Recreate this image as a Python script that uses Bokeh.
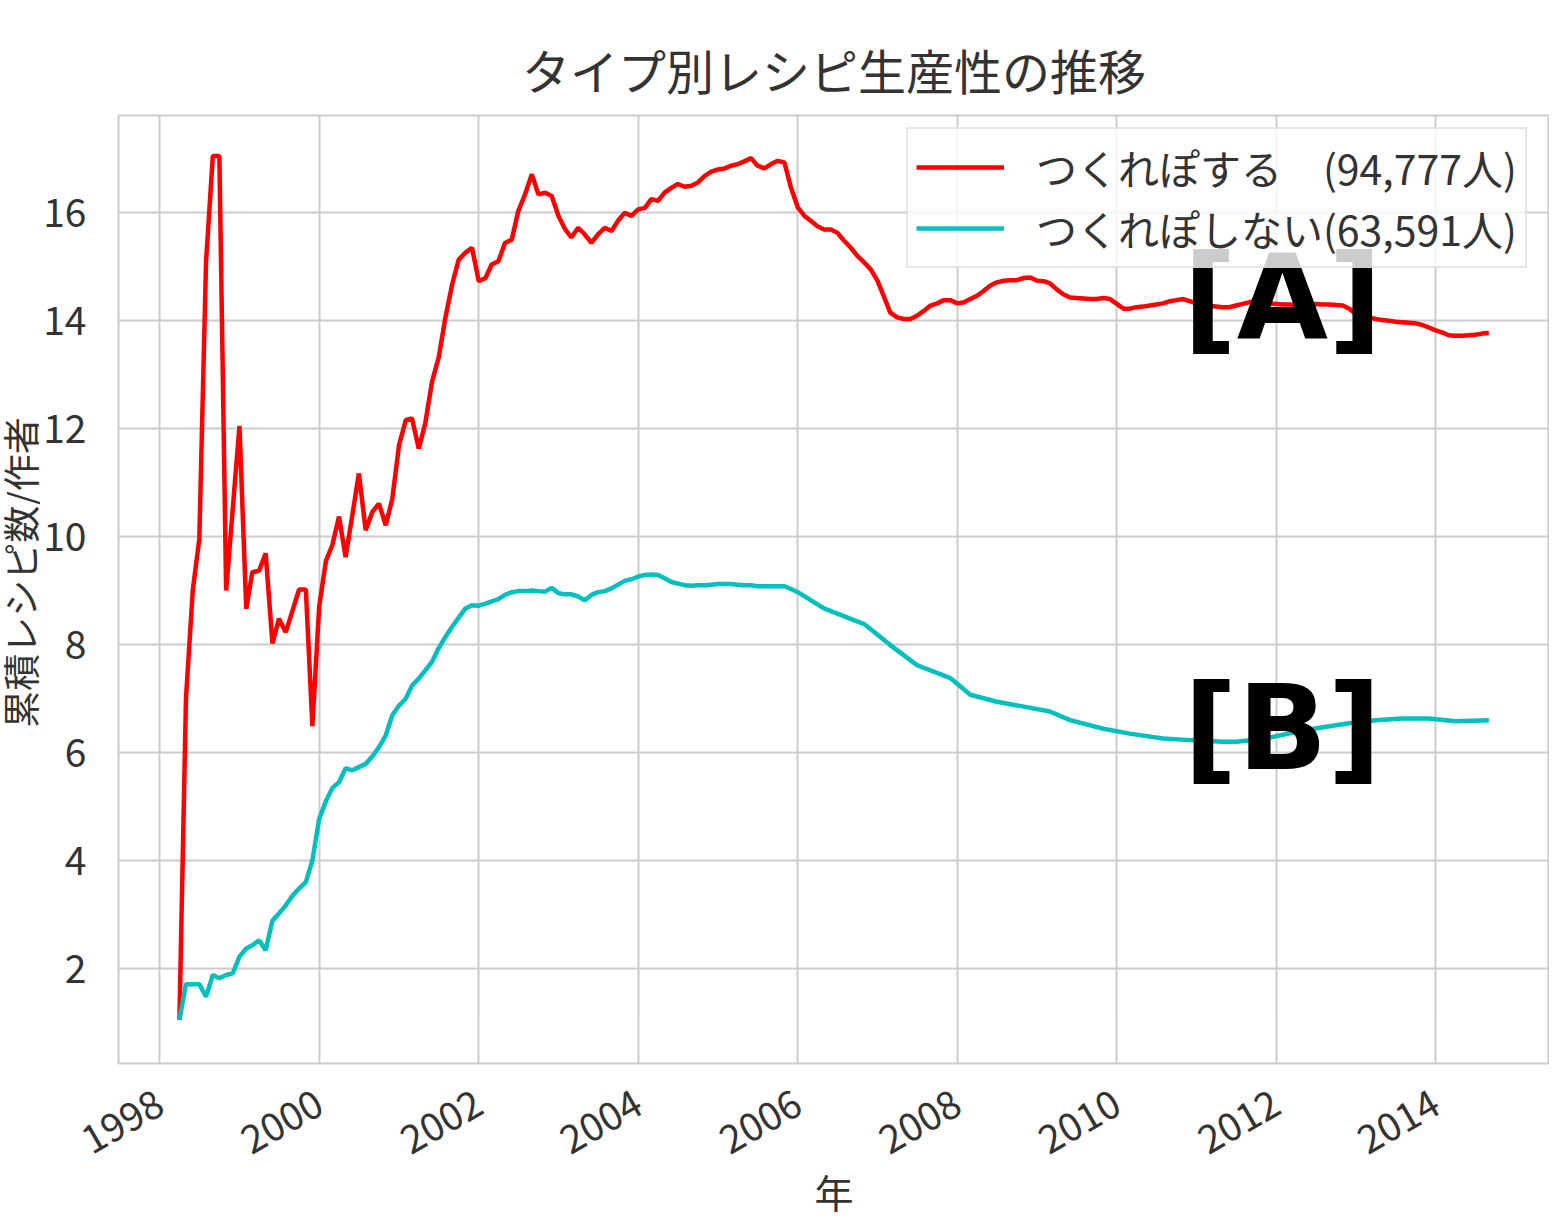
import math
import pandas as pd
from bokeh.plotting import figure
from bokeh.layouts import row
from bokeh.models import (FixedTicker, DatetimeTickFormatter, Legend, LegendItem,
                          Label, Range1d)
from bokeh.core.properties import value
from bokeh.embed import file_html
from bokeh.resources import INLINE

# ---------------- data ----------------
title_text = "タイプ別レシピ生産性の推移"
x_label = "年"
y_label = "累積レシピ数/作者"
series_names = ["つくれぽする\u3000(94,777人)", "つくれぽしない(63,591人)"]
year_ticks = [1998, 2000, 2002, 2004, 2006, 2008, 2010, 2012, 2014]
y_ticks = [2, 4, 6, 8, 10, 12, 14, 16]

# monthly, starting 1998-04
red_start = "1998-04-01"
red_values = [
    1.05, 7.0, 9.0, 9.95, 15.1, 17.05, 17.05, 9.0, 10.5, 12.05,
    8.66, 9.34, 9.37, 9.69, 8.02, 8.48, 8.23, 8.63, 9.02, 9.02,
    6.49, 8.7, 9.55, 9.84, 10.37, 9.62, 10.4, 11.17, 10.12, 10.46,
    10.61, 10.21, 10.7, 11.7, 12.16, 12.19, 11.63, 12.1, 12.87, 13.31,
    14.05, 14.67, 15.13, 15.26, 15.35, 14.73, 14.79, 15.04, 15.1, 15.44,
    15.5, 16.03, 16.34, 16.71, 16.34, 16.37, 16.31, 15.94, 15.69, 15.54,
    15.72, 15.6, 15.44, 15.6, 15.72, 15.66, 15.85, 16.0, 15.94, 16.06,
    16.09, 16.25, 16.22, 16.37, 16.46, 16.53, 16.48, 16.5, 16.56, 16.68,
    16.76, 16.8, 16.82, 16.87, 16.9, 16.95, 17.01, 16.87, 16.82, 16.9,
    16.96, 16.93, 16.46, 16.1, 15.94, 15.85, 15.75, 15.69, 15.69, 15.63,
    15.48, 15.35, 15.2, 15.08, 14.95, 14.74, 14.43, 14.15, 14.06, 14.03,
    14.03, 14.09, 14.18, 14.28, 14.32, 14.38, 14.38, 14.32, 14.34, 14.4,
    14.46, 14.55, 14.65, 14.71, 14.74, 14.75, 14.75, 14.79, 14.8, 14.74,
    14.73, 14.69, 14.58, 14.49, 14.43, 14.42, 14.41, 14.4, 14.4, 14.42,
    14.4, 14.31, 14.22, 14.22, 14.25, 14.26, 14.28, 14.3, 14.32, 14.36,
    14.38, 14.4, 14.36, 14.32, 14.3, 14.27, 14.26, 14.25, 14.25, 14.28,
    14.31, 14.34, 14.37, 14.35, 14.32, 14.31, 14.3, 14.3, 14.29, 14.28,
    14.3, 14.31, 14.3, 14.3, 14.29, 14.28, 14.22, 14.12, 14.09, 14.06,
    14.03, 14.01, 14.0, 13.98, 13.97, 13.96, 13.95, 13.92, 13.87, 13.82,
    13.78, 13.73, 13.72, 13.72, 13.73, 13.74, 13.76, 13.77,
]

# monthly 1998-04 .. 2005-12, then sparser readings
cyan_start = "1998-04-01"
cyan_values_monthly = [
    1.05, 1.71, 1.71, 1.71, 1.48, 1.88, 1.82, 1.88, 1.91, 2.22,
    2.37, 2.43, 2.52, 2.34, 2.89, 3.02, 3.17, 3.35, 3.48, 3.6,
    4.0, 4.77, 5.1, 5.34, 5.45, 5.71, 5.67, 5.73, 5.79, 5.93,
    6.1, 6.32, 6.69, 6.87, 7.0, 7.24, 7.37, 7.52, 7.68, 7.93,
    8.14, 8.33, 8.5, 8.67, 8.73, 8.72, 8.76, 8.8, 8.84, 8.92,
    8.97, 8.99, 8.99, 9.0, 8.99, 8.98, 9.05, 8.95, 8.93, 8.93,
    8.89, 8.82, 8.92, 8.97, 8.99, 9.04, 9.11, 9.18, 9.21, 9.26,
    9.29, 9.3, 9.29, 9.23, 9.16, 9.13, 9.1, 9.09, 9.1, 9.1,
    9.11, 9.12, 9.12, 9.12, 9.11, 9.1, 9.1, 9.08, 9.08, 9.08,
    9.08, 9.08, 9.03,
]
cyan_tail_dates = [
    "2006-01-01", "2006-05-01", "2006-11-01", "2007-03-01", "2007-07-01",
    "2007-12-01", "2008-03-01", "2008-07-01", "2008-11-01", "2009-03-01",
    "2009-06-01", "2009-11-01", "2010-03-01", "2010-08-01", "2010-12-01",
    "2011-05-01", "2011-07-01", "2011-11-01", "2012-04-01", "2012-08-01",
    "2013-01-01", "2013-04-01", "2013-08-01", "2013-12-01", "2014-04-01",
    "2014-09-01",
]
cyan_tail_values = [
    8.97, 8.67, 8.38, 7.99, 7.62, 7.38, 7.07, 6.94, 6.85, 6.76,
    6.6, 6.44, 6.35, 6.26, 6.23, 6.2, 6.2, 6.25, 6.38, 6.47,
    6.56, 6.6, 6.63, 6.63, 6.58, 6.6,
]

# ---------------- build ----------------
red_dates = pd.date_range(red_start, periods=len(red_values), freq="MS")
cyan_dates = list(pd.date_range(cyan_start, periods=len(cyan_values_monthly), freq="MS")) + \
    list(pd.to_datetime(cyan_tail_dates))
cyan_values = cyan_values_monthly + cyan_tail_values

FONT = "Noto Sans CJK JP"
TXT = "#333333"
FIG_H = 1222
LAB_W = 40

# narrow strip holding the (vertical) y-axis title
pl = figure(width=LAB_W, height=FIG_H, output_backend="svg", toolbar_location=None,
            x_range=Range1d(0, LAB_W), y_range=Range1d(0, FIG_H),
            x_axis_location=None, y_axis_location=None,
            min_border=0, outline_line_color=None)
pl.grid.visible = False
pl.background_fill_color = "white"
pl.border_fill_color = "white"
pl.text(x=[19], y=[FIG_H - 589], text=[y_label], angle=math.pi / 2,
        text_align="center", text_baseline="middle",
        text_font=value(FONT), text_font_size="37px", text_color=TXT)

p = figure(width=1549 - LAB_W, height=FIG_H, x_axis_type="datetime",
           output_backend="svg", toolbar_location=None,
           x_range=Range1d(pd.Timestamp("1997-06-26"), pd.Timestamp("2015-06-06")),
           y_range=Range1d(0.24, 17.8),
           min_border_left=117 - LAB_W, min_border_right=0,
           min_border_top=115, min_border_bottom=159)

p.background_fill_color = "white"
p.border_fill_color = "white"
p.outline_line_color = "#cccccc"
p.outline_line_width = 2

p.title.text = title_text
p.title.align = "center"
p.title.text_font = FONT
p.title.text_font_size = "48px"
p.title.text_font_style = "normal"
p.title.text_color = TXT
p.title.standoff = 23

r1 = p.line(red_dates, red_values, line_color="#ff0000", line_width=4.5)
r2 = p.line(cyan_dates, cyan_values, line_color="#00bfbf", line_width=4.5)

p.xaxis.ticker = FixedTicker(ticks=[pd.Timestamp(f"{y}-01-01").timestamp() * 1000 for y in year_ticks])
p.xaxis.formatter = DatetimeTickFormatter(years="%Y", months="%Y", days="%Y")
p.yaxis.ticker = FixedTicker(ticks=y_ticks)
p.xaxis.major_label_orientation = math.pi / 6

for ax in (p.xaxis, p.yaxis):
    ax.axis_line_color = None
    ax.major_tick_line_color = None
    ax.minor_tick_line_color = None
    ax.major_label_text_font = FONT
    ax.major_label_text_font_size = "39px"
    ax.major_label_text_color = TXT
p.xaxis.major_label_standoff = 30
p.yaxis.major_label_standoff = 26

p.xaxis.axis_label = x_label
p.xaxis.axis_label_text_font = FONT
p.xaxis.axis_label_text_font_style = "normal"
p.xaxis.axis_label_text_color = TXT
p.xaxis.axis_label_text_font_size = "39px"
p.xaxis.axis_label_standoff = -8

p.grid.grid_line_color = "#cccccc"
p.grid.grid_line_width = 2

for txt, yy in (("[A]", 766), ("[B]", 336)):
    p.add_layout(Label(x=1164, y=yy, x_units="screen", y_units="screen", text=txt,
                       text_align="center", text_baseline="alphabetic",
                       text_font="DejaVu Sans", text_font_style="bold",
                       text_font_size="118px", text_color="black"))

legend = Legend(items=[LegendItem(label=series_names[0], renderers=[r1]),
                       LegendItem(label=series_names[1], renderers=[r2])],
                location=(788, 795))
legend.label_text_font = FONT
legend.label_text_font_size = "41px"
legend.label_text_color = TXT
legend.glyph_width = 88
legend.glyph_height = 48
legend.label_height = 48
legend.label_standoff = 32
legend.spacing = 1
legend.padding = 8
legend.margin = 0
legend.border_line_color = "#cccccc"
legend.border_line_width = 2
legend.background_fill_alpha = 0.8
p.add_layout(legend)

layout = row(pl, p, spacing=0)
open("out.html", "w").write(file_html(layout, INLINE))
